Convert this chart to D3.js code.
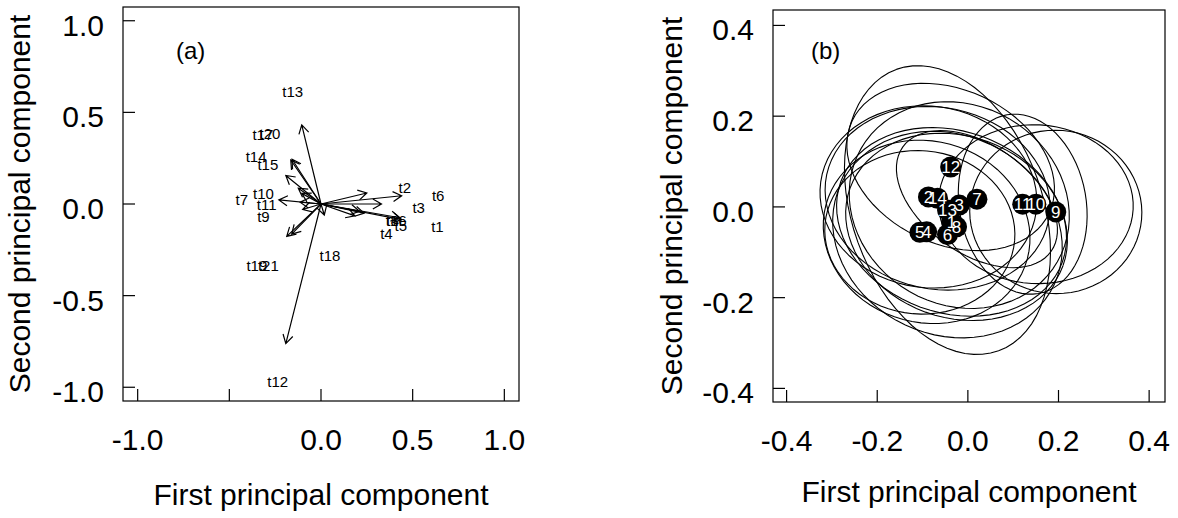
<!DOCTYPE html>
<html><head><meta charset="utf-8">
<script src="https://cdn.jsdelivr.net/npm/d3@7"></script>
<style>
body{margin:0;background:#fff}
text{font-family:"Liberation Sans",Arial,Helvetica,sans-serif;fill:#000}
</style>
</head><body>
<svg id="c" width="1178" height="518"></svg>
<script>
// ---------- Panel (a): variable loadings (arrows) ----------
const varNames = ["t1","t2","t3","t4","t5","t6","t7","t8","t9","t10","t11","t12","t13","t14","t15","t16","t17","t18","t19","t20","t21"];
const arrowX   = [0.44, 0.44, 0.33, 0.185, 0.235, 0.25, -0.23, 0.21, -0.10, -0.105, -0.114, -0.192, -0.105, -0.192, -0.124, 0.43, -0.165, 0.018, -0.187, -0.158, -0.16];
const arrowY   = [-0.085, 0.045, 0.0, -0.065, -0.05, 0.06, 0.022, -0.04, -0.03, 0.058, 0.01, -0.762, 0.432, 0.156, 0.086, -0.075, 0.24, -0.06, -0.177, 0.244, -0.164];
const labelX   = [0.635, 0.457, 0.533, 0.357, 0.435, 0.639, -0.432, 0.39, -0.314, -0.314, -0.296, -0.236, -0.154, -0.354, -0.29, 0.41, -0.317, 0.049, -0.35, -0.278, -0.287];
const labelY   = [-0.124, 0.091, -0.018, -0.16, -0.115, 0.049, 0.022, -0.088, -0.069, 0.058, 0.0, -0.968, 0.614, 0.259, 0.213, -0.092, 0.377, -0.279, -0.334, 0.387, -0.334];
const aXTicks = [-1.0, -0.5, 0.0, 0.5, 1.0];
const aXTickLabels = ["-1.0", "", "0.0", "0.5", "1.0"];
const aYTicks = [-1.0, -0.5, 0.0, 0.5, 1.0];
const aYTickLabels = ["-1.0", "-0.5", "0.0", "0.5", "1.0"];

// ---------- Panel (b): group scores and ellipses ----------
const groups   = ["1","2","3","4","5","6","7","8","9","10","11","12","13","14"];
const groupX   = [-0.036, -0.087, -0.019, -0.091, -0.106, -0.045, 0.020, -0.025, 0.194, 0.150, 0.121, -0.038, -0.045, -0.067];
const groupY   = [-0.033, 0.022, 0.004, -0.055, -0.056, -0.061, 0.017, -0.044, -0.011, 0.006, 0.006, 0.088, -0.007, 0.019];
const ellA     = [0.26, 0.24, 0.25, 0.23, 0.21, 0.26, 0.20, 0.25, 0.19, 0.215, 0.20, 0.24, 0.33, 0.25];
const ellB     = [0.20, 0.20, 0.22, 0.20, 0.18, 0.22, 0.12, 0.20, 0.18, 0.175, 0.14, 0.17, 0.21, 0.20];
const ellAngle = [-20, -8, -30, -15, -5, -25, -35, -20, -5, -3, 100, -25, 110, -12];
const bTicks = [-0.4, -0.2, 0.0, 0.2, 0.4];
const bTickLabels = ["-0.4", "-0.2", "0.0", "0.2", "0.4"];

const svg = d3.select("#c");
svg.append("rect").attr("width",1178).attr("height",518).attr("fill","#fff");

function frame(g, xs, ys, xt, xtl, yt, ytl, xTitleY, yTitleX, yLabelX, xLabelBase) {
  const [x0,x1] = xs.range(), [y0,y1] = ys.range();
  g.append("rect").attr("x",x0).attr("y",y1).attr("width",x1-x0).attr("height",y0-y1)
    .attr("fill","none").attr("stroke","#000").attr("stroke-width",1.2);
  xt.forEach((v,i)=>{
    g.append("line").attr("x1",xs(v)).attr("x2",xs(v)).attr("y1",y0).attr("y2",y0-12).attr("stroke","#000").attr("stroke-width",1.2);
    if (xtl[i]) g.append("text").attr("x",xs(v)).attr("y",xLabelBase).attr("text-anchor","middle").attr("font-size",30).text(xtl[i]);
  });
  yt.forEach((v,i)=>{
    g.append("line").attr("x1",x0).attr("x2",x0+12).attr("y1",ys(v)).attr("y2",ys(v)).attr("stroke","#000").attr("stroke-width",1.2);
    if (ytl[i]) g.append("text").attr("x",yLabelX).attr("y",ys(v)+15).attr("text-anchor","end").attr("font-size",30).text(ytl[i]);
  });
  g.append("text").attr("x",(x0+x1)/2).attr("y",xTitleY).attr("text-anchor","middle").attr("font-size",30).text("First principal component");
  g.append("text").attr("transform",`translate(${yTitleX},${(y0+y1)/2}) rotate(-90)`).attr("text-anchor","middle").attr("font-size",30).text("Second principal component");
}

// Panel (a)
const xa = d3.scaleLinear().domain([-1.08,1.08]).range([123,519]);
const ya = d3.scaleLinear().domain([-1.075,1.075]).range([401,7]);
const ga = svg.append("g");
frame(ga, xa, ya, aXTicks, aXTickLabels, aYTicks, aYTickLabels, 505, 30, 104, 450);
ga.append("text").attr("x",176).attr("y",59).attr("font-size",24).text("(a)");

const headLen = 10, headAng = Math.PI/6;
varNames.forEach((n,i)=>{
  const sx = xa(0), sy = ya(0), ex = xa(arrowX[i]), ey = ya(arrowY[i]);
  const ang = Math.atan2(ey-sy, ex-sx);
  const p = d3.path();
  p.moveTo(sx,sy); p.lineTo(ex,ey);
  p.moveTo(ex - headLen*Math.cos(ang-headAng), ey - headLen*Math.sin(ang-headAng));
  p.lineTo(ex,ey);
  p.lineTo(ex - headLen*Math.cos(ang+headAng), ey - headLen*Math.sin(ang+headAng));
  ga.append("path").attr("d",p.toString()).attr("fill","none").attr("stroke","#000").attr("stroke-width",1.2);
});
varNames.forEach((n,i)=>{
  ga.append("text").attr("x",xa(labelX[i])).attr("y",ya(labelY[i])+5.5)
    .attr("text-anchor","middle").attr("font-size",15).text(n);
});

// Panel (b)
const xb = d3.scaleLinear().domain([-0.43,0.435]).range([773,1165]);
const yb = d3.scaleLinear().domain([-0.43,0.434]).range([402,10]);
const gb = svg.append("g");
frame(gb, xb, yb, bTicks, bTickLabels, bTicks, bTickLabels, 502, 682, 754, 451);
gb.append("text").attr("x",811).attr("y",59).attr("font-size",24).text("(b)");

const line = d3.line().x(d=>xb(d[0])).y(d=>yb(d[1]));
groups.forEach((gname,i)=>{
  const th = ellAngle[i]*Math.PI/180, pts = [];
  for (let k=0;k<=72;k++){
    const t = 2*Math.PI*k/72;
    const ex = ellA[i]*Math.cos(t), ey = ellB[i]*Math.sin(t);
    pts.push([groupX[i] + ex*Math.cos(th) - ey*Math.sin(th), groupY[i] + ex*Math.sin(th) + ey*Math.cos(th)]);
  }
  gb.append("path").attr("d",line(pts)).attr("fill","none").attr("stroke","#000").attr("stroke-width",1.1);
});
groups.forEach((gname,i)=>{
  gb.append("circle").attr("cx",xb(groupX[i])).attr("cy",yb(groupY[i])).attr("r",10.5).attr("fill","#000");
});
groups.forEach((gname,i)=>{
  gb.append("text").attr("x",xb(groupX[i])).attr("y",yb(groupY[i])+6)
    .attr("text-anchor","middle").attr("font-size",17).style("fill","#fff").text(gname);
});
</script>
</body></html>
